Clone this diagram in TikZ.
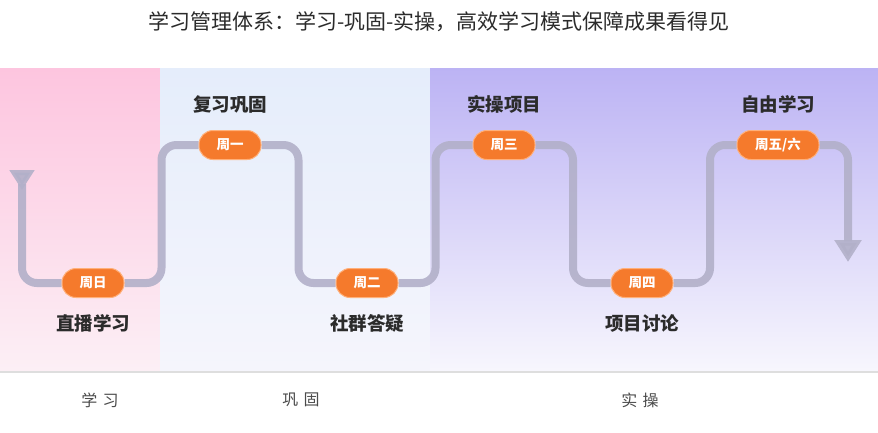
\documentclass[tikz,border=0pt]{standalone}
\usepackage{fontspec}
\setmainfont{Noto Sans CJK SC}
\usepackage{tikz}
\usetikzlibrary{positioning,arrows.meta,calc,backgrounds}
\definecolor{weekorange}{HTML}{F57A2C}
\definecolor{weekrim}{HTML}{FFB07A}
\definecolor{trackgrey}{HTML}{B2B0C9}
\definecolor{labelink}{HTML}{2B2B2B}
\definecolor{pinktop}{HTML}{FDC5DF}
\definecolor{pinkbot}{HTML}{FCEFF5}
\definecolor{bluetop}{HTML}{E5EDFB}
\definecolor{bluebot}{HTML}{F5F5FC}
\definecolor{violettop}{HTML}{BCB3F4}
\definecolor{violetbot}{HTML}{F7F6FD}

\begin{document}
\begin{tikzpicture}[x=1pt,y=-1pt,
  pill/.style={draw=weekrim,line width=1pt,fill=weekorange,rounded corners=14pt,minimum height=29pt,minimum width=62pt,inner sep=0pt,text=white,font=\fontsize{13.5}{13.5}\selectfont\bfseries},
  lbl/.style={text=labelink,font=\fontsize{18.5}{18.5}\selectfont\bfseries},
  phase/.style={text=labelink!85,font=\fontsize{16}{16}\selectfont},
  track/.style={trackgrey,line width=8pt,rounded corners=15pt,opacity=.9}
]
\useasboundingbox (0,0) rectangle (878,432);

\node[font=\fontsize{21}{21}\selectfont,text=labelink] (title) at (439,22) {学习管理体系：学习-巩固-实操，高效学习模式保障成果看得见};

% week pills
\node[pill] (sun) at (93,283) {周日};
\node[pill] (mon) at (230,145) {周一};
\node[pill] (tue) at (367,283) {周二};
\node[pill] (wed) at (504,145) {周三};
\node[pill] (thu) at (642,283) {周四};
\node[pill,minimum width=82pt] (fri) at (778,145) {周五/六};
\coordinate (begin) at (22,170);
\coordinate (finish) at (848,262);

\node[lbl,above=13pt of mon] (review) {复习巩固};
\node[lbl,above=13pt of wed] (practice) {实操项目};
\node[lbl,above=13pt of fri] (free) {自由学习};
\node[lbl,below=13pt of sun] (live) {直播学习};
\node[lbl,below=13pt of tue] (qa) {社群答疑};
\node[lbl,below=13pt of thu] (discuss) {项目讨论};

\node[phase] (learn) at (100,400) {学\,\,习};
\node[phase] (consol) at (301,400) {巩\,\,固};
\node[phase] (hands) at (640,400) {实\,\,操};

\begin{scope}[on background layer]
\fill[white] (0,0) rectangle (878,432);
\shade[top color=pinktop,bottom color=pinkbot] (0,68) rectangle (160,370);
\shade[top color=bluetop,bottom color=bluebot] (160,68) rectangle (430,370);
\shade[top color=violettop,bottom color=violetbot] (430,68) rectangle (878,370);
\draw[black!13,line width=2pt] (0,372) -- (878,372);

\draw[track,{Triangle[reversed,width=24pt,length=20pt]}-] (begin) |- (sun);
\draw[track] (sun) -| ($(sun)!.5!(mon)$) |- (mon);
\draw[track] (mon) -| ($(mon)!.5!(tue)$) |- (tue);
\draw[track] (tue) -| ($(tue)!.5!(wed)$) |- (wed);
\draw[track] (wed) -| ($(wed)!.5!(thu)$) |- (thu);
\draw[track] (thu) -| ($(thu)!.5!(fri)$) |- (fri);
\draw[track,-{Triangle[width=26pt,length=22pt]}] (fri) -| (finish);
\end{scope}
\end{tikzpicture}
\end{document}
